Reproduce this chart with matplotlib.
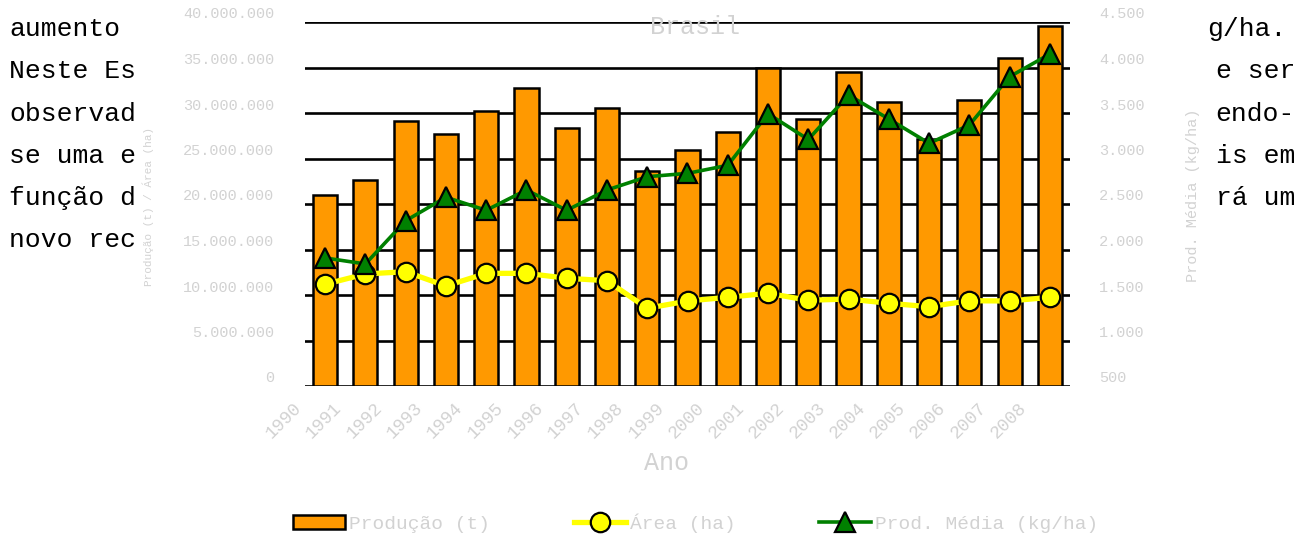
import matplotlib.pyplot as plt
import matplotlib.transforms as mtrans
from matplotlib.patches import Rectangle

W, H = 1299, 535

# dados (milho - Brasil)
anos = [str(a) for a in range(1990, 2009)]
producao = [21.0, 22.6, 29.1, 27.7, 30.2, 32.8, 28.3, 30.5, 23.6, 25.9,
            27.9, 35.0, 29.3, 34.5, 31.2, 27.1, 31.4, 36.0, 39.6]  # milhoes de t
area = [11.18, 12.31, 12.56, 10.99, 12.38, 12.38, 11.84, 11.57, 8.54, 9.34,
        9.75, 10.19, 9.42, 9.56, 9.09, 8.71, 9.37, 9.34, 9.75]  # milhoes de ha
rendimento = [1907, 1841, 2316, 2574, 2431, 2654, 2431, 2654, 2800, 2837,
              2925, 3492, 3209, 3698, 3434, 3167, 3368, 3899, 4148]  # kg/ha

yticks_esq = [0, 5e6, 10e6, 15e6, 20e6, 25e6, 30e6, 35e6, 40e6]
ylabels_esq = ['0', '5.000.000', '10.000.000', '15.000.000', '20.000.000',
               '25.000.000', '30.000.000', '35.000.000', '40.000.000']
yticks_dir = [500, 1000, 1500, 2000, 2500, 3000, 3500, 4000, 4500]
ylabels_dir = ['500', '1.000', '1.500', '2.000', '2.500', '3.000', '3.500',
               '4.000', '4.500']

# texto do documento por tras do grafico
texto_esq = ['aumento', 'Neste Es', 'observad', 'se uma e', 'função d', 'novo rec']
texto_dir = ['g/ha.', 'e ser', 'endo-', 'is em', 'rá um']
linhas_y = [36, 78, 121, 163, 205, 247]

mono = 'Liberation Mono'
claro = '#d2d2d2'

fig = plt.figure(figsize=(W / 100, H / 100), dpi=100)

# fundo com o texto
bg = fig.add_axes([0, 0, 1, 1])
bg.set_xlim(0, W)
bg.set_ylim(H, 0)
bg.axis('off')
for t, y in zip(texto_esq, linhas_y):
    bg.text(9, y, t, family=mono, fontsize=19, va='baseline', ha='left')
for i, (t, y) in enumerate(zip(texto_dir, linhas_y)):
    if i == 0:
        bg.text(1207, y, t, family=mono, fontsize=19, va='baseline', ha='left')
    else:
        bg.text(1295, y, t, family=mono, fontsize=19, va='baseline', ha='right')
bg.add_patch(Rectangle((137, 0), 1207 - 137, H, facecolor='white',
                       edgecolor='none', zorder=5))

# grafico
ax = fig.add_axes([305 / W, 1 - 386 / H, (1070 - 305) / W, (386 - 22) / H])
ax.set_facecolor('none')
x = list(range(len(anos)))
barras = ax.bar(x, [p * 1e6 for p in producao], width=0.6, color='#FF9900',
                edgecolor='black', linewidth=1.8, zorder=2, label='Produção (t)')
l_area, = ax.plot(x, [a * 1e6 for a in area], color='#FFFF00', lw=3.8,
                  marker='o', ms=14, mfc='#FFFF00', mec='black', mew=1.6,
                  zorder=3, label='Área (ha)')
ax.set_xlim(-0.5, 18.5)
ax.set_ylim(0, 40e6)
ax.set_yticks(yticks_esq)
ax.set_yticklabels(ylabels_esq, family=mono, fontsize=11, color=claro)
ax.grid(axis='y', color='black', lw=1.9, zorder=0)
ax.set_axisbelow(True)
for s in ax.spines.values():
    s.set_visible(False)
ax.tick_params(axis='y', length=0, pad=22)
ax.tick_params(axis='x', length=0, pad=10)
ax.set_xticks(x)
ax.set_xticklabels(anos, rotation=45, ha='right', va='top', family=mono,
                   fontsize=13, color=claro)
for lbl in ax.get_xticklabels():
    lbl.set_transform(lbl.get_transform() +
                      mtrans.ScaledTranslation(-0.2, 0, fig.dpi_scale_trans))
for lbl in ax.get_yticklabels():
    lbl.set_transform(lbl.get_transform() +
                      mtrans.ScaledTranslation(0, 0.09, fig.dpi_scale_trans))

ax2 = ax.twinx()
ax2.set_facecolor('none')
l_rend, = ax2.plot(x, rendimento, color='#008000', lw=2.6, marker='^', ms=14,
                   mfc='#008000', mec='black', mew=1.6, zorder=4,
                   label='Prod. Média (kg/ha)')
ax2.set_ylim(500, 4500)
ax2.set_yticks(yticks_dir)
ax2.set_yticklabels(ylabels_dir, family=mono, fontsize=11, color=claro)
ax2.tick_params(axis='y', length=0, pad=21)
for s in ax2.spines.values():
    s.set_visible(False)
for lbl in ax2.get_yticklabels():
    lbl.set_transform(lbl.get_transform() +
                      mtrans.ScaledTranslation(0, 0.09, fig.dpi_scale_trans))

# titulo e rotulos dos eixos
fig.text(695 / W, 1 - 27 / H, 'Brasil', family=mono, fontsize=18, color=claro,
         ha='center', va='center')
fig.text(666 / W, 1 - 463 / H, 'Ano', family=mono, fontsize=18, color=claro,
         ha='center', va='center')
fig.text(148 / W, 1 - 206 / H, 'Produção (t) / Área (ha)', family=mono,
         fontsize=8, color=claro, rotation=90, ha='center', va='center')
fig.text(1193 / W, 1 - 195 / H, 'Prod. Média (kg/ha)', family=mono,
         fontsize=11, color=claro, rotation=90, ha='center', va='center')

leg = fig.legend(handles=[barras, l_area, l_rend], loc='center left',
                 bbox_to_anchor=(293 / W, 1 - 523 / H), ncol=3, frameon=False,
                 prop={'family': mono, 'size': 14}, labelcolor=claro,
                 handlelength=2.68, handletextpad=0.2, columnspacing=4.3,
                 borderpad=0, borderaxespad=0, numpoints=1)

fig.savefig('out.png', dpi=100)
